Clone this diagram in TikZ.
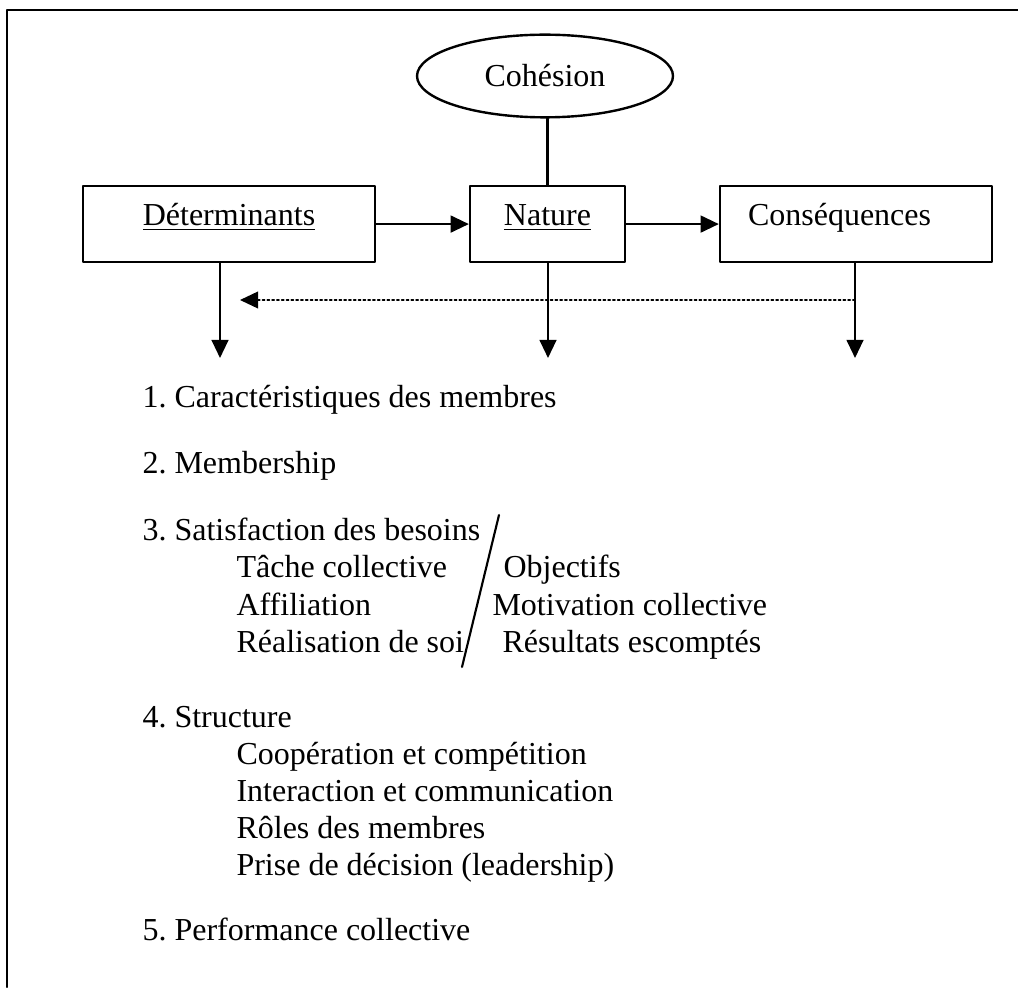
\documentclass[tikz,border=0pt]{standalone}
\usepackage{fontspec}
\setmainfont{Liberation Serif}
\usetikzlibrary{shapes.geometric,arrows.meta}
\frenchspacing

\tikzset{
  box/.style={draw, line width=0.9pt, inner xsep=0pt, inner ysep=0pt,
              text height=14.6pt, text depth=13.9pt, anchor=base},
  link/.style={line width=0.8pt, -{Triangle[length=6.8pt,width=6.3pt]}},
  item/.style={anchor=base west, inner sep=0pt},
}

\begin{document}
\begin{tikzpicture}[x=0.375pt, y=-0.375pt, font=\fontsize{12}{14}\selectfont,
                    line cap=round, line join=round]
  \useasboundingbox (0,0) rectangle (1018,987);

  % frame (top and left sides only)
  \draw[line width=1pt] (7,987) -- (7,10) -- (1018,10);

  % ---- Nodes ----
  \node[draw, ellipse, line width=0.9pt, minimum width=96pt,
        minimum height=31pt, inner sep=0pt] (coh) at (545,76) {Cohésion};
  \node[box, minimum width=109.5pt] (det) at (229,225) {\underline{Déterminants}};
  \node[box, minimum width=58.1pt]  (nat) at (547.5,225) {\underline{Nature}};
  \node[box, inner xsep=10.5pt, text width=81pt, align=left]
       (cons) at (856,225) {Conséquences};

  % ends of the arrows
  \coordinate (d1) at (220,358);
  \coordinate (d2) at (548,358);
  \coordinate (d3) at (855,358);
  \coordinate (fb) at (240,300);

  % ---- Connectors ----
  \draw[line width=0.8pt] (nat.north) -- (nat.north |- coh.south);
  \draw[link] (det) -- (nat);
  \draw[link] (nat) -- (cons);
  \draw[link] (det.south -| d1) -- (d1);
  \draw[link] (nat.south -| d2) -- (d2);
  \draw[link] (cons.south -| d3) -- (d3);
  \draw[link, densely dotted, line width=0.6pt] (d3 |- fb) -- (fb);

  % ---- List ----
  \foreach \x/\y/\t [count=\i] in {
      142/407/1. Caractéristiques des membres,
      142/473/2. Membership,
      142/540/3. Satisfaction des besoins,
      236/577/Tâche collective,
      236/615/Affiliation,
      236/652/Réalisation de soi,
      142/727/4. Structure,
      236/764/Coopération et compétition,
      236/801/Interaction et communication,
      236/838/Rôles des membres,
      236/875/Prise de décision (leadership),
      142/940/5. Performance collective}
    \node[item] (l\i) at (\x,\y) {\t};

  % second column of item 3
  \node[item] (obj) at (503,577) {Objectifs};
  \node[item] (mot) at (492,615) {Motivation collective};
  \node[item] (res) at (502,652) {Résultats escomptés};

  % slash between the columns
  \coordinate (s1) at (499,515);
  \coordinate (s2) at (462,667);
  \draw[line width=0.8pt] (s1) -- (s2);
\end{tikzpicture}
\end{document}
